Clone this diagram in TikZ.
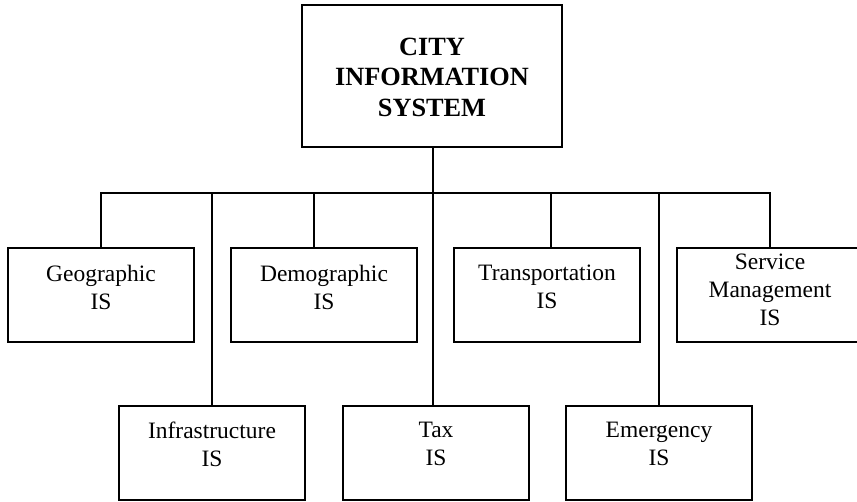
\documentclass[tikz,border=0pt]{standalone}
\usepackage{fontspec}
\setmainfont{Liberation Serif}
\begin{document}
\begin{tikzpicture}[x=1pt,y=-1pt,
  box/.style={draw, line width=1.6pt, minimum width=186pt, minimum height=94pt, inner sep=0pt},
  topbox/.style={draw, line width=1.6pt, minimum width=260pt, minimum height=142pt, inner sep=0pt},
  lbl/.style={align=center, inner sep=0pt, font=\fontsize{23.5}{28}\selectfont},
  ttl/.style={align=center, inner sep=0pt, font=\fontsize{26.3}{30.5}\selectfont\bfseries},
  conn/.style={line width=1.6pt}]
\useasboundingbox (0,0) rectangle (857,502);
% boxes
\node[topbox] (top) at (432,76) {};
\node[ttl] (toptxt) at (432,77) {CITY\\INFORMATION\\SYSTEM};
\node[box] (geo) at (101,295) {};
\node[lbl] (geotxt) at (101,287) {Geographic\\IS};
\node[box] (dem) at (324,295) {};
\node[lbl] (demtxt) at (324,287) {Demographic\\IS};
\node[box] (tra) at (547,295) {};
\node[lbl] (tratxt) at (547,287) {Transportation\\IS};
\node[box] (svc) at (770,295) {};
\node[lbl] (svctxt) at (770,290) {Service\\Management\\IS};
\node[box] (inf) at (212,453) {};
\node[lbl] (inftxt) at (212,444) {Infrastructure\\IS};
\node[box] (tax) at (436,453) {};
\node[lbl] (taxtxt) at (436,444) {Tax\\IS};
\node[box] (emg) at (659,453) {};
\node[lbl] (emgtxt) at (659,444) {Emergency\\IS};
% connectors
\coordinate (bus) at (433,193);
\coordinate (demx) at (314,193);
\coordinate (trax) at (551,193);
\draw[conn] (bus |- top.south) -- (bus |- tax.north);
\draw[conn] (geo.north) -- (geo.north |- bus) -- (svc.north |- bus) -- (svc.north);
\draw[conn] (inf.north |- bus) -- (inf.north);
\draw[conn] (demx) -- (demx |- dem.north);
\draw[conn] (trax) -- (trax |- tra.north);
\draw[conn] (emg.north |- bus) -- (emg.north);
\end{tikzpicture}
\end{document}
